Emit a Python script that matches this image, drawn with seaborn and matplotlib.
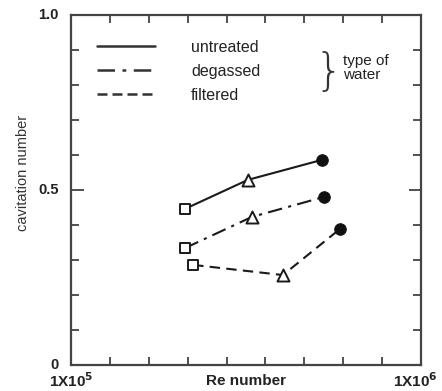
import matplotlib
matplotlib.use("Agg")
import matplotlib.pyplot as plt
import seaborn as sns
import pandas as pd
from matplotlib.lines import Line2D

# ---- data ----
water_types = ["untreated", "degassed", "filtered"]
re_untreated = [3.93e5, 5.55e5, 7.45e5]
cav_untreated = [0.446, 0.529, 0.586]
re_degassed = [3.93e5, 5.65e5, 7.50e5]
cav_degassed = [0.334, 0.423, 0.480]
re_filtered = [4.14e5, 6.45e5, 7.92e5]
cav_filtered = [0.286, 0.257, 0.389]
point_kind = ["square", "triangle", "circle"]

x_ticks = [1e5 * k for k in range(1, 11)]
y_major = [0.0, 0.5, 1.0]
y_minor = [k / 10 for k in range(1, 10) if k != 5]
y_labels = ["0", "0.5", "1.0"]

rows = []
for name, xs, ys in [("untreated", re_untreated, cav_untreated),
                     ("degassed", re_degassed, cav_degassed),
                     ("filtered", re_filtered, cav_filtered)]:
    for x, y, k in zip(xs, ys, point_kind):
        rows.append({"water": name, "Re": x, "cav": y, "kind": k})
df = pd.DataFrame(rows)

sns.set_theme(style="white")
plt.rcParams["font.family"] = ["Liberation Sans", "DejaVu Sans"]

fig = plt.figure(figsize=(4.42, 3.91), dpi=100)
ax = fig.add_axes([71 / 442, 1 - 365 / 391, 350 / 442, 350 / 391])

dashes = {"untreated": "", "degassed": (7, 3, 1.5, 3), "filtered": (5, 3)}
sns.lineplot(data=df, x="Re", y="cav", hue="water", style="water",
             hue_order=water_types, style_order=water_types,
             palette={w: "#1a1a1a" for w in water_types},
             dashes=dashes, linewidth=1.5, ax=ax, legend=False, sort=True,
             estimator=None)

sq = df[df.kind == "square"]
tr = df[df.kind == "triangle"]
ci = df[df.kind == "circle"]
sns.scatterplot(data=sq, x="Re", y="cav", marker="s", s=60, facecolor="white",
                edgecolor="#1a1a1a", linewidth=1.4, ax=ax, zorder=5, legend=False)
sns.scatterplot(data=tr, x="Re", y="cav", marker="^", s=75, facecolor="white",
                edgecolor="#1a1a1a", linewidth=1.4, ax=ax, zorder=5, legend=False)
sns.scatterplot(data=ci, x="Re", y="cav", marker="o", s=70, color="#111111",
                edgecolor="#111111", ax=ax, zorder=5, legend=False)

ax.set_xlim(1e5, 1e6)
ax.set_ylim(0, 1.0)
ax.set_xticks(x_ticks)
ax.set_yticks(y_major)
ax.set_yticks(y_minor, minor=True)
ax.set_xticklabels([])
ax.set_yticklabels([])
ax.tick_params(axis="both", which="both", direction="in", width=1.2,
               color="#333333", top=True, right=True, bottom=True, left=True)
ax.tick_params(axis="x", which="major", length=6)
ax.tick_params(axis="y", which="major", length=9)
ax.tick_params(axis="y", which="minor", length=6)
for sp in ax.spines.values():
    sp.set_visible(True)
    sp.set_color("#444444")
    sp.set_linewidth(1.6)
ax.set_xlabel("")
ax.set_ylabel("")
ax.grid(False)

# y tick labels
for v, t in zip(y_major, y_labels):
    ax.text(-0.035, v, t, transform=ax.get_yaxis_transform(), ha="right",
            va="center", fontsize=10.5, fontweight="bold", color="#222222")
# x tick labels
ax.text(0.0, -0.045, r"1X10$^{\mathbf{5}}$", transform=ax.transAxes, ha="center",
        va="center", fontsize=11, fontweight="bold", color="#222222")
ax.text(0.985, -0.045, r"1X10$^{\mathbf{6}}$", transform=ax.transAxes, ha="center",
        va="center", fontsize=11, fontweight="bold", color="#222222")
ax.text(0.5, -0.045, "Re number", transform=ax.transAxes, ha="center",
        va="center", fontsize=11, fontweight="bold", color="#222222")
fig.text(23 / 442, 1 - 173 / 391, "cavitation number", rotation=90,
         ha="center", va="center", fontsize=10.5, color="#333333")

# legend
handles = [Line2D([], [], color="#333333", lw=1.8, linestyle="-"),
           Line2D([], [], color="#333333", lw=1.8, dashes=(7, 3, 1.5, 3)),
           Line2D([], [], color="#333333", lw=1.8, dashes=(4, 2))]
leg = ax.legend(handles, water_types, loc="upper left",
                bbox_to_anchor=((97 - 71) / 350, (365 - 40) / 350),
                frameon=False, fontsize=11.5, handlelength=3.6, handletextpad=2.3,
                labelspacing=0.55, borderpad=0, borderaxespad=0)
for t in leg.get_texts():
    t.set_color("#222222")

ax.text((329 - 71) / 350, (365 - 73) / 350, "}", transform=ax.transAxes,
        ha="center", va="center", fontsize=32, fontweight="light",
        color="#333333", family="DejaVu Sans")
ax.text((343 - 71) / 350, (365 - 68) / 350, "type of\nwater", transform=ax.transAxes,
        ha="left", va="center", fontsize=11, color="#222222", linespacing=1.0)

fig.savefig("out.png", dpi=100, facecolor="white")
